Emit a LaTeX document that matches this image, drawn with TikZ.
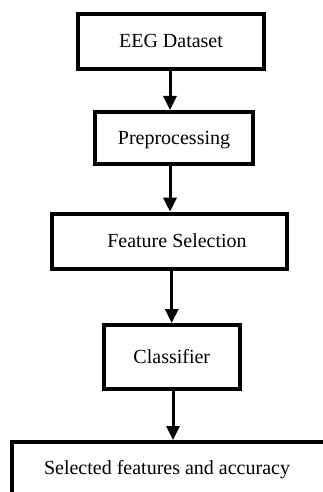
\documentclass[tikz,border=0pt]{standalone}
\usepackage{fontspec}
\setmainfont{Liberation Serif}
\usetikzlibrary{arrows.meta}
\begin{document}
\begin{tikzpicture}[x=1pt,y=-1pt,
  box/.style={draw=black,line width=4pt,fill=white,inner sep=0pt,
    text height=14pt,text depth=1pt,font=\fontsize{20}{24}\selectfont},
  arr/.style={draw=black,line width=3pt,-{Triangle[width=13pt,length=14pt]}}]
\useasboundingbox (0,0) rectangle (323,492);
\clip (0,0) rectangle (323,492);
\fill[white] (0,0) rectangle (323,492);
\node[box,minimum width=186pt,minimum height=55pt] (e1) at (171,41.2) {EEG Dataset};
\node[box,minimum width=158pt,minimum height=52pt] (e2) at (174,138) {Preprocessing};
\node[box,minimum width=235pt,minimum height=55pt] (e3) at (169,241.2) {\hspace*{16pt}Feature Selection};
\node[box,minimum width=136pt,minimum height=64pt] (e4) at (171.8,357) {Classifier};
\node[box,minimum width=328pt,minimum height=51.5pt] (e5) at (176,467.75) {\hspace*{-18pt}Selected features and accuracy};
\coordinate (c1) at (170,0);
\coordinate (c2) at (170,0);
\coordinate (c3) at (171.7,0);
\coordinate (c4) at (173,0);
\draw[arr] (e1.south -| c1) -- (e2.north -| c1);
\draw[arr] (e2.south -| c2) -- (e3.north -| c2);
\draw[arr] (e3.south -| c3) -- (e4.north -| c3);
\draw[arr] (e4.south -| c4) -- (e5.north -| c4);
\end{tikzpicture}
\end{document}
